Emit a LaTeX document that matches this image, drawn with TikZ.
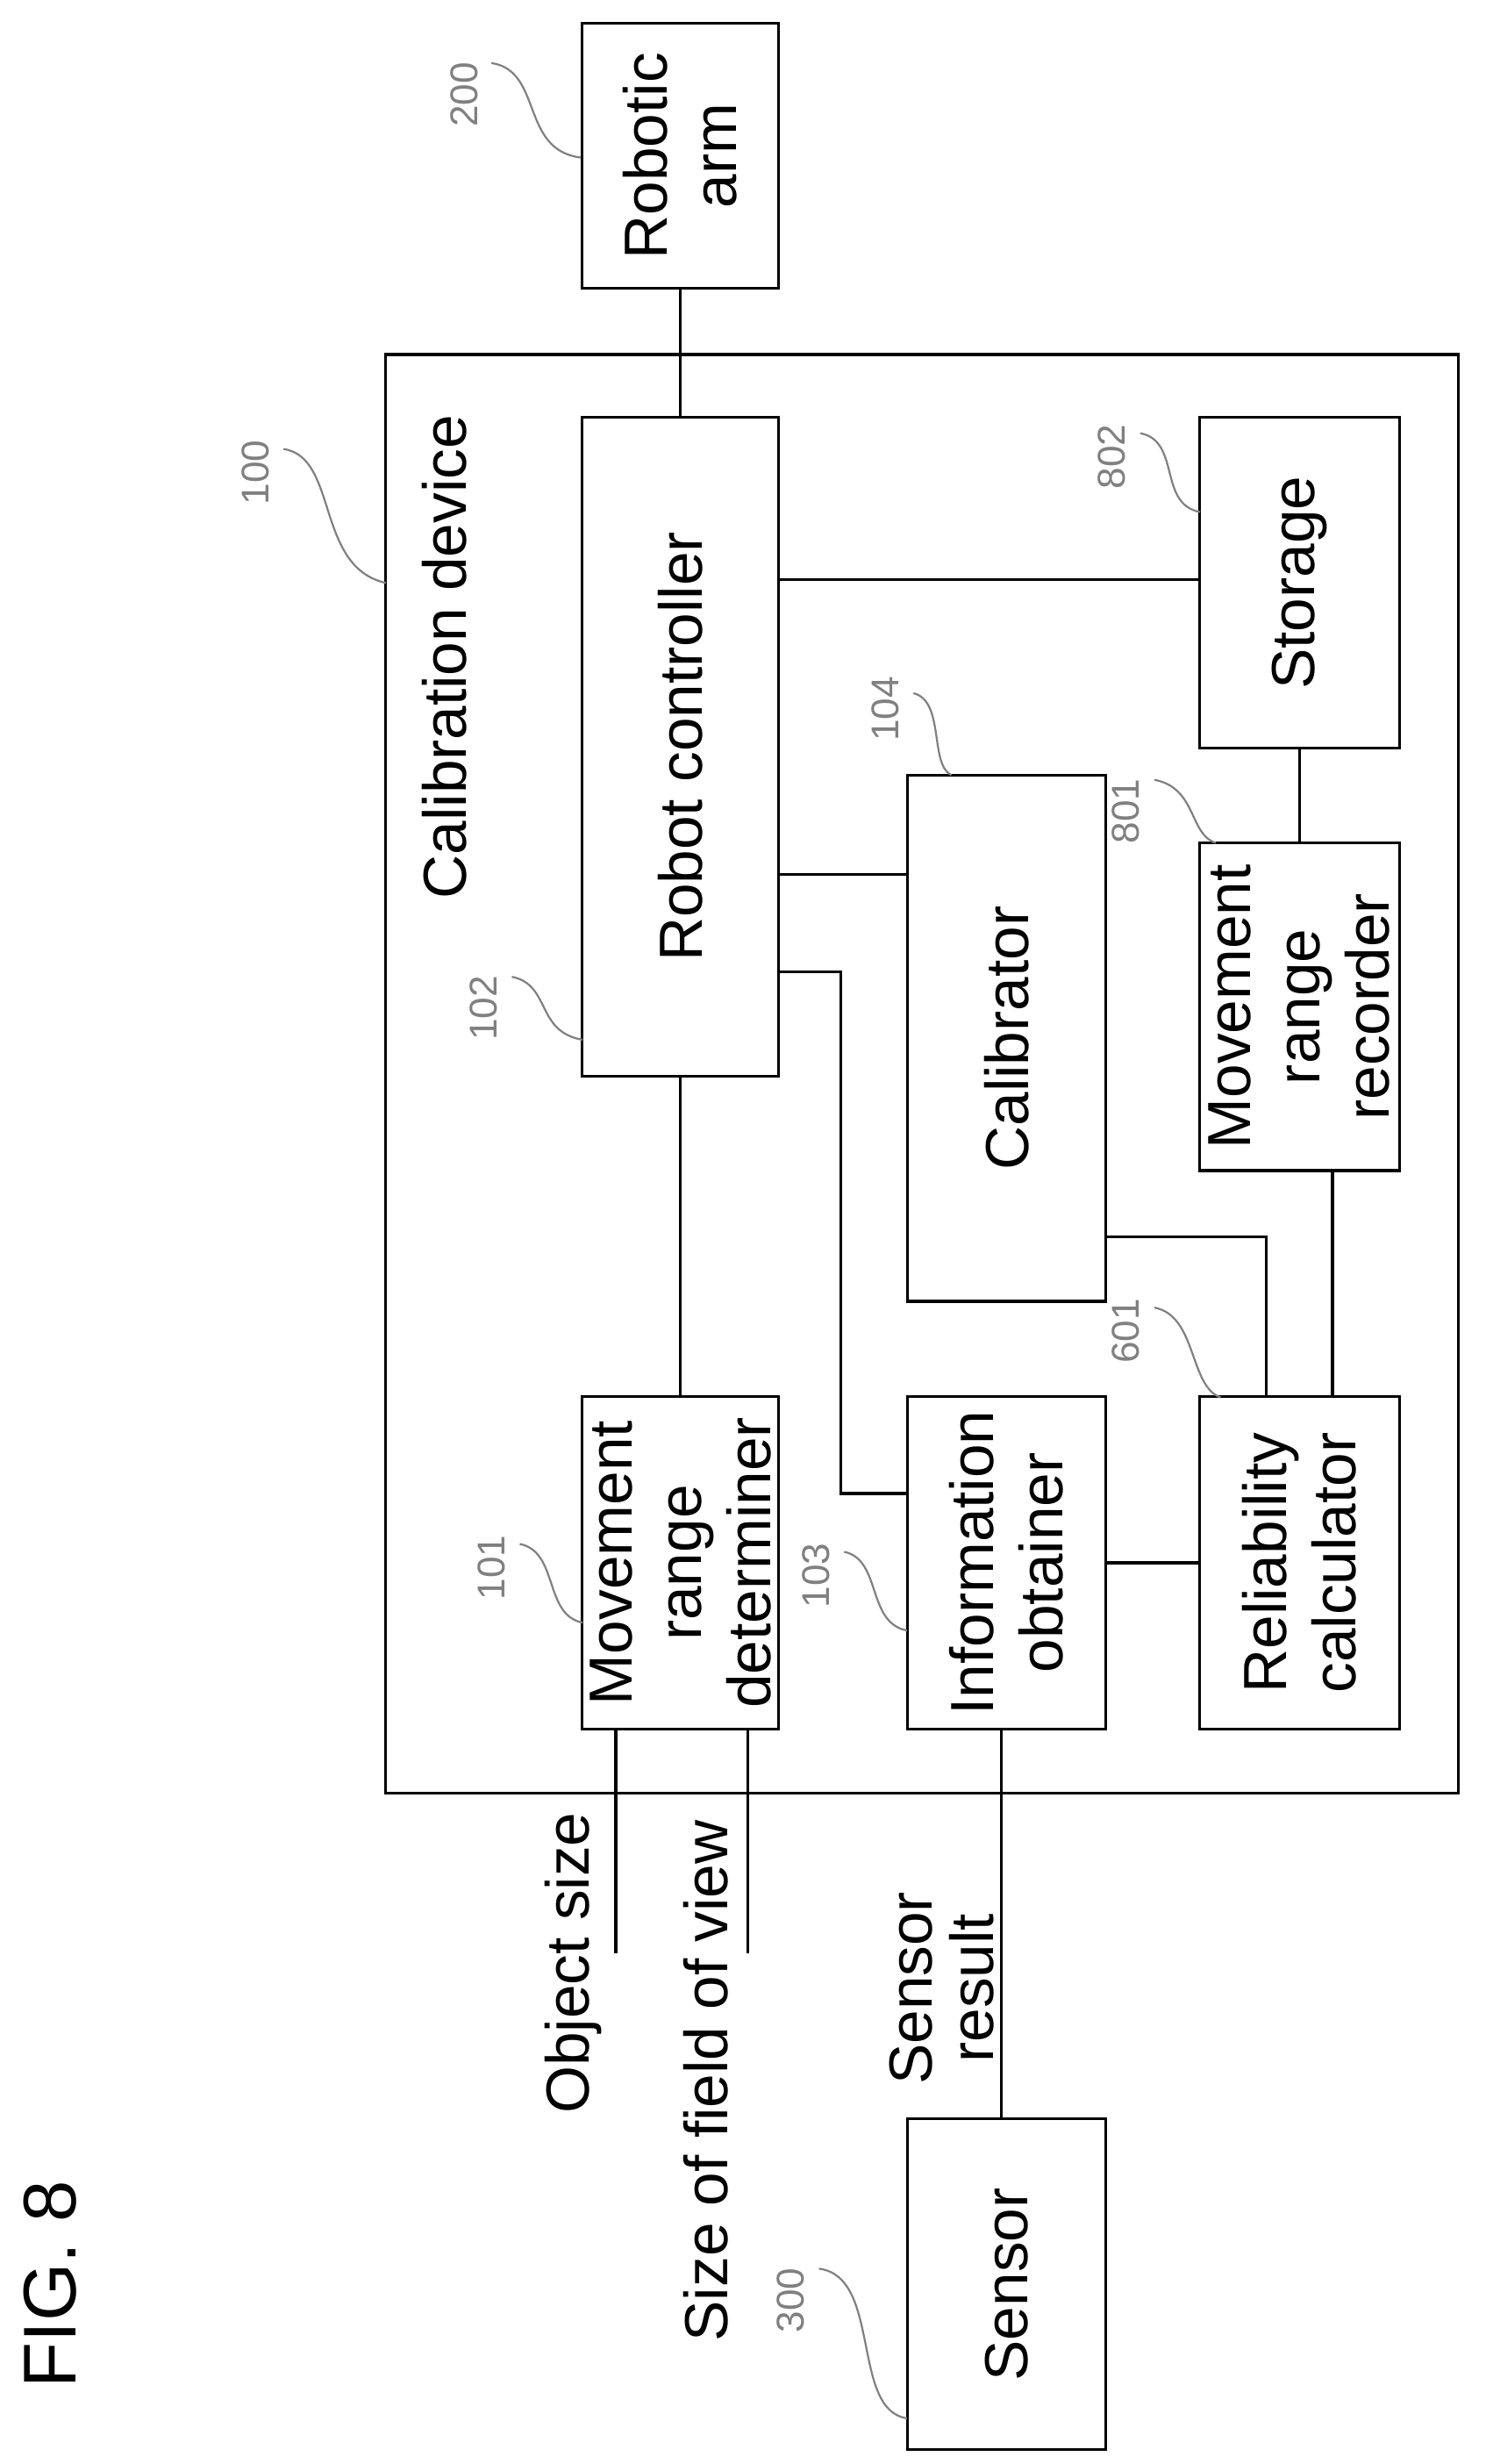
\documentclass[tikz,border=0pt]{standalone}
\usepackage{fontspec}
\setmainfont{Liberation Sans}
\begin{document}
\begin{tikzpicture}[x=0.02cm,y=-0.02cm,
  blk/.style={draw,line width=1pt,rotate=90,align=center,inner sep=0pt,font=\fontsize{22}{25}\selectfont},
  lbl/.style={rotate=90,align=center,inner sep=0pt,font=\fontsize{22}{25}\selectfont},
  num/.style={rotate=90,inner sep=0pt,text=gray,font=\fontsize{14}{16}\selectfont},
  lead/.style={gray,line width=0.7pt},
  wire/.style={line width=1pt}]
\useasboundingbox (0,0) rectangle (943,1564);
\draw[wire] (245,225) rectangle (926,1138); % calibration device
% blocks (min width = screen height, min height = screen width)
\node[blk,minimum width=168*0.02cm,minimum height=125*0.02cm] (arm) at (432,99) {Robotic\\arm};
\node[blk,minimum width=418*0.02cm,minimum height=125*0.02cm] (ctrl) at (432,474) {Robot controller};
\node[blk,minimum width=210*0.02cm,minimum height=127*0.02cm] (store) at (825,370) {Storage};
\node[blk,minimum width=334*0.02cm,minimum height=126*0.02cm] (calib) at (639,659) {Calibrator};
\node[blk,minimum width=208*0.02cm,minimum height=127*0.02cm] (rec) at (825,639) {Movement\\range\\recorder};
\node[blk,minimum width=211*0.02cm,minimum height=125*0.02cm] (det) at (432,992) {Movement\\range\\determiner};
\node[blk,minimum width=211*0.02cm,minimum height=126*0.02cm] (info) at (639,992) {Information\\obtainer};
\node[blk,minimum width=211*0.02cm,minimum height=127*0.02cm] (rel) at (825,992) {Reliability\\calculator};
\node[blk,minimum width=210*0.02cm,minimum height=126*0.02cm] (sens) at (639,1450) {Sensor};
% texts
\node[lbl] (dev) at (282,417) {Calibration device};
\node[lbl,anchor=east] (osz) at (364,1150) {Object size};
\node[lbl,anchor=east] (fov) at (448,1155) {Size of field of view};
\node[lbl,font=\fontsize{22}{22}\selectfont] (sres) at (598,1262) {Sensor\\result};
\node[rotate=90,font=\fontsize{27}{30}\selectfont] (fig) at (32,1450) {FIG. 8};
% free ends
\coordinate (oszend) at (391,1240);
\coordinate (fovend) at (475,1240);
% connectors
\draw[wire] (arm.west) -- (ctrl.east);
\draw[wire] (ctrl.west) -- (det.east);
\draw[wire] (ctrl.south |- 0,368) -- (store.north |- 0,368);
\draw[wire] (ctrl.south |- 0,555) -- (calib.north |- 0,555);
\draw[wire] (ctrl.south |- 0,617) -| (534,948) -- (info.north |- 0,948);
\draw[wire] (store.west) -- (rec.east);
\draw[wire] (rec.west -| 846,0) -- (rel.east -| 846,0);
\draw[wire] (calib.south |- 0,785) -| (rel.east -| 804,0);
\draw[wire] (info.south |- 0,992) -- (rel.north |- 0,992);
\draw[wire] (det.west -| oszend) -- (oszend);
\draw[wire] (det.west -| fovend) -- (fovend);
\draw[wire] (info.west -| 636,0) -- (sens.east -| 636,0);
% reference numerals
\node[num] (n200) at (295,60) {200};
\draw[lead] (312,40) .. controls (345,45) and (330,95) .. (arm.north |- 0,100);
\node[num] (n100) at (162,300) {100};
\draw[lead] (180,285) .. controls (215,290) and (200,360) .. (245,370);
\node[num] (n102) at (307,640) {102};
\draw[lead] (325,620) .. controls (350,625) and (340,655) .. (370,660);
\node[num] (n104) at (562,450) {104};
\draw[lead] (580,440) .. controls (600,445) and (590,485) .. (604,492);
\node[num] (n802) at (706,290) {802};
\draw[lead] (724,275) .. controls (750,280) and (735,320) .. (762,325);
\node[num] (n801) at (715,515) {801};
\draw[lead] (733,495) .. controls (760,500) and (755,530) .. (772,535);
\node[num] (n101) at (312,995) {101};
\draw[lead] (330,980) .. controls (355,985) and (345,1025) .. (370,1030);
\node[num] (n103) at (518,1000) {103};
\draw[lead] (536,985) .. controls (560,990) and (550,1030) .. (576,1035);
\node[num] (n601) at (715,845) {601};
\draw[lead] (733,830) .. controls (760,835) and (755,880) .. (775,887);
\node[num] (n300) at (502,1460) {300};
\draw[lead] (520,1440) .. controls (560,1445) and (540,1530) .. (576,1535);
\end{tikzpicture}
\end{document}
